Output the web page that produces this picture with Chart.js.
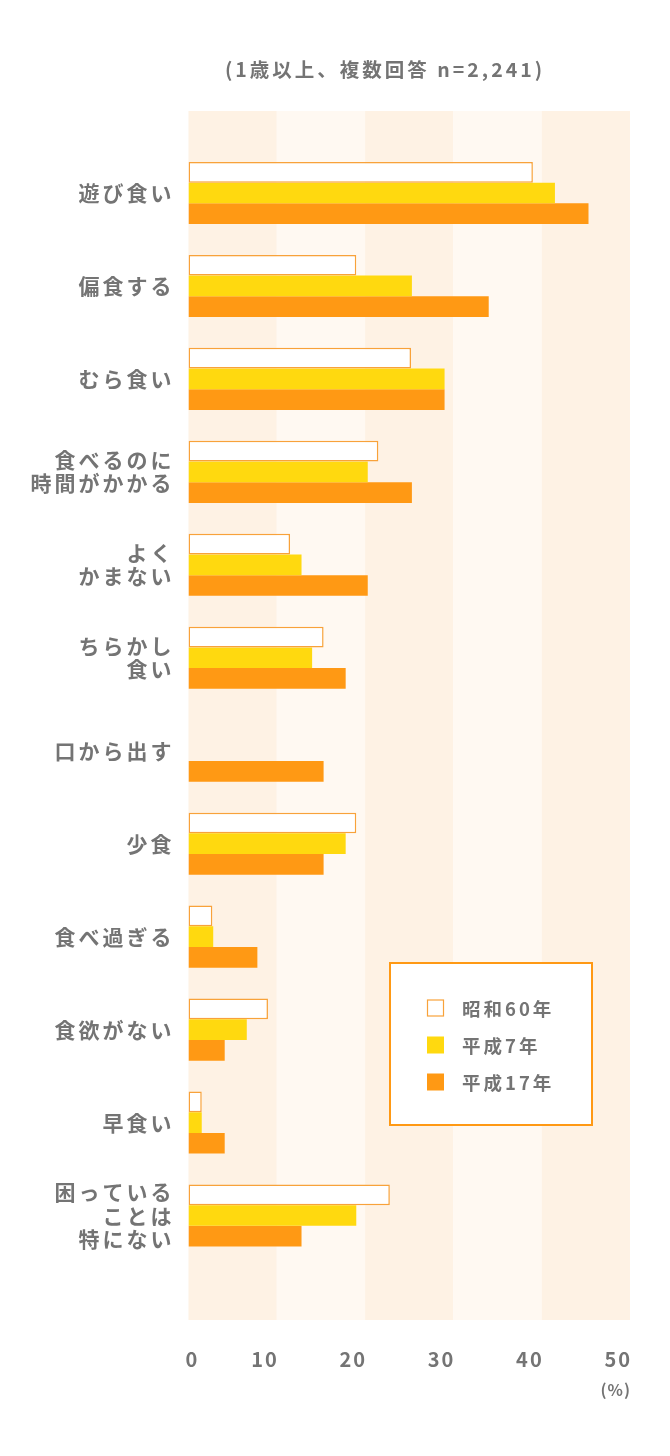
<!DOCTYPE html>
<html>
<head>
<meta charset="utf-8">
<script src="https://cdn.jsdelivr.net/npm/chart.js@4/dist/chart.umd.min.js"></script>
<style>
html,body{margin:0;padding:0;background:#fff;}
#wrap{width:670px;height:1456px;position:relative;}
</style>
</head>
<body>
<div id="wrap"><canvas id="c" width="670" height="1456"></canvas></div>
<script>
// ---- data ----
const categories = [
  ['遊び食い'], ['偏食する'], ['むら食い'], ['食べるのに','時間がかかる'],
  ['よく','かまない'], ['ちらかし','食い'], ['口から出す'], ['少食'],
  ['食べ過ぎる'], ['食欲がない'], ['早食い'], ['困っている','ことは','特にない']
];
const seriesNames = ['昭和60年', '平成7年', '平成17年'];
const showa60  = [39.0, 19.0, 25.2, 21.5, 11.5, 15.3, null, 19.0, 2.7, 9.0, 1.5, 22.8];
const heisei7  = [41.5, 25.3, 29.0, 20.3, 12.8, 14.0, null, 17.8, 2.8, 6.6, 1.5, 19.0];
const heisei17 = [45.3, 34.0, 29.0, 25.3, 20.3, 17.8, 15.3, 15.3, 7.8, 4.1, 4.1, 12.8];
const xTicks = [0, 10, 20, 30, 40, 50];
const titleText = '(1歳以上、複数回答 n=2,241)';
const unitText = '(%)';

const GRAY = '#747474';
const FONT = '"Noto Sans CJK JP", "Noto Sans", sans-serif';
const C_WHITE_BORDER = '#f8a23a';
const C_YELLOW = '#ffd90f';
const C_ORANGE = '#ff9914';
const BAND_DARK = '#fef2e4';
const BAND_LIGHT = '#fff9f2';

const bandPlugin = {
  id: 'bands',
  beforeDraw(chart) {
    const ctx = chart.ctx, xs = chart.scales.x, ca = chart.chartArea;
    ctx.save();
    const top = ca.top - 35.5, bottom = ca.bottom + 58;
    for (let i = 0; i < xTicks.length - 1; i++) {
      const x0 = xs.getPixelForValue(xTicks[i]);
      const x1 = xs.getPixelForValue(xTicks[i + 1]);
      ctx.fillStyle = i % 2 === 0 ? BAND_DARK : BAND_LIGHT;
      ctx.fillRect(x0, top, x1 - x0, bottom - top);
    }
    ctx.restore();
    // letter spacing for axis labels drawn by Chart.js
    ctx.letterSpacing = '3px';
  },
  afterDraw(chart) {
    const ctx = chart.ctx, xs = chart.scales.x;
    ctx.save();
    ctx.fillStyle = GRAY;
    // title
    ctx.letterSpacing = '3px';
    ctx.font = 'bold 19.5px ' + FONT;
    ctx.textAlign = 'center';
    ctx.textBaseline = 'middle';
    ctx.fillText(titleText, 385, 70);
    // x tick labels
    ctx.letterSpacing = '2px';
    ctx.font = 'bold 20px ' + FONT;
    xTicks.forEach((v, i) => {
      const px = xs.getPixelForValue(v);
      if (i === 0) { ctx.textAlign = 'left'; ctx.fillText(String(v), px - 3, 1359); }
      else { ctx.textAlign = 'right'; ctx.fillText(String(v), px + 2, 1359); }
    });
    ctx.font = 'bold 16px ' + FONT;
    ctx.letterSpacing = '1px';
    ctx.textAlign = 'right';
    ctx.fillText(unitText, xs.getPixelForValue(xTicks[xTicks.length - 1]) + 1, 1390);
    // legend
    const bx = 390, by = 963, bw = 202, bh = 162;
    ctx.fillStyle = '#fff';
    ctx.fillRect(bx, by, bw, bh);
    ctx.strokeStyle = C_ORANGE;
    ctx.lineWidth = 2;
    ctx.strokeRect(bx, by, bw, bh);
    const ds = chart.data.datasets;
    ctx.font = 'bold 18.5px ' + FONT;
    ctx.letterSpacing = '3px';
    ctx.textAlign = 'left';
    ds.forEach((d, i) => {
      const cy = 1008 + i * 37;
      ctx.fillStyle = d.backgroundColor;
      ctx.fillRect(427, cy - 8.5, 17, 17);
      if (d.borderWidth) {
        ctx.strokeStyle = d.borderColor;
        ctx.lineWidth = 1.2;
        ctx.strokeRect(427.5, cy - 8, 16, 16);
      }
      ctx.fillStyle = GRAY;
      ctx.fillText(d.label, 462, cy + 1);
    });
    ctx.restore();
  }
};

new Chart(document.getElementById('c'), {
  type: 'bar',
  data: {
    labels: categories,
    datasets: [
      { label: seriesNames[0], data: showa60, backgroundColor: '#ffffff', borderColor: C_WHITE_BORDER, borderWidth: 1.5, borderSkipped: false },
      { label: seriesNames[1], data: heisei7, backgroundColor: C_YELLOW, borderWidth: 0 },
      { label: seriesNames[2], data: heisei17, backgroundColor: C_ORANGE, borderWidth: 0 }
    ]
  },
  options: {
    indexAxis: 'y',
    responsive: false,
    animation: false,
    devicePixelRatio: 1,
    layout: { padding: { top: 146.5, right: 40, bottom: 0, left: 0 } },
    datasets: { bar: { categoryPercentage: 0.668, barPercentage: 1.0 } },
    plugins: { legend: { display: false }, tooltip: { enabled: false }, title: { display: false } },
    scales: {
      x: {
        min: 0, max: 50,
        grid: { display: false, drawTicks: false },
        border: { display: false },
        ticks: { display: false },
        afterFit(s) { s.height = 1456 - 1262; }
      },
      y: {
        grid: { display: false, drawTicks: false },
        border: { display: false },
        ticks: {
          color: GRAY,
          padding: 14,
          font: { family: FONT, size: 21, weight: 'bold', lineHeight: 1.1 }
        },
        afterFit(s) { s.width = 188.5; }
      }
    }
  },
  plugins: [bandPlugin]
});
</script>
</body>
</html>
